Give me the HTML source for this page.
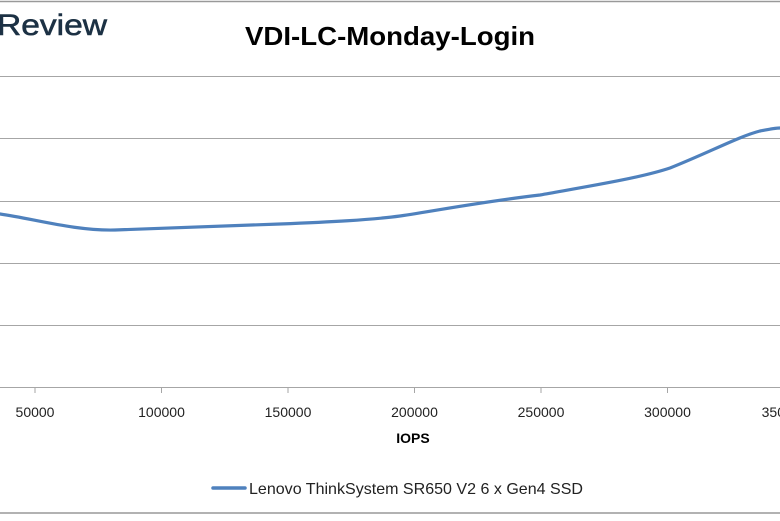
<!DOCTYPE html>
<html><head><style>
body{margin:0;width:780px;height:516px;background:#fff;overflow:hidden;font-family:"Liberation Sans",sans-serif}
</style></head><body>
<svg width="780" height="516" xmlns="http://www.w3.org/2000/svg">
<line x1="0" y1="1.5" x2="780" y2="1.5" stroke="#999" stroke-width="1.5"/>
<line x1="0" y1="513" x2="780" y2="513" stroke="#999" stroke-width="1.5"/>
<text x="-3" y="35" font-size="30" fill="#1c3144" stroke="#1c3144" stroke-width="0.6" textLength="110" lengthAdjust="spacingAndGlyphs">Review</text>
<text x="390" y="45" font-size="26" font-weight="bold" text-anchor="middle" fill="#000" textLength="290" lengthAdjust="spacingAndGlyphs">VDI-LC-Monday-Login</text>
<g stroke="#a6a6a6" stroke-width="1">
<line x1="0" y1="76.5" x2="780" y2="76.5"/>
<line x1="0" y1="138.5" x2="780" y2="138.5"/>
<line x1="0" y1="201.5" x2="780" y2="201.5"/>
<line x1="0" y1="263.5" x2="780" y2="263.5"/>
<line x1="0" y1="325.5" x2="780" y2="325.5"/>
<line x1="0" y1="387.5" x2="780" y2="387.5"/>
<line x1="35" y1="387" x2="35" y2="393"/>
<line x1="161.5" y1="387" x2="161.5" y2="393"/>
<line x1="288" y1="387" x2="288" y2="393"/>
<line x1="414.5" y1="387" x2="414.5" y2="393"/>
<line x1="541" y1="387" x2="541" y2="393"/>
<line x1="667.5" y1="387" x2="667.5" y2="393"/>
</g>
<g font-size="14" fill="#222" text-anchor="middle">
<text x="35" y="417">50000</text>
<text x="161.5" y="417">100000</text>
<text x="288" y="417">150000</text>
<text x="414.5" y="417">200000</text>
<text x="541" y="417">250000</text>
<text x="667.5" y="417">300000</text>
<text x="785" y="417">350000</text>
</g>
<text x="413" y="443" font-size="14" font-weight="bold" text-anchor="middle" fill="#000">IOPS</text>
<path d="M0,214 C35,219 75,231 115,230 C160,228 220,226 280,224 C330,222 370,220 400,216 C440,210 480,202 540,195 C590,186 640,178 670,168 C710,152 740,136 760,131 C770,129 776,128 780,128" fill="none" stroke="#4f81bd" stroke-width="3.2" stroke-linecap="round"/>
<line x1="213" y1="488" x2="245" y2="488" stroke="#4f81bd" stroke-width="3.5" stroke-linecap="round"/>
<text x="249" y="494" font-size="16" fill="#222" textLength="334" lengthAdjust="spacingAndGlyphs">Lenovo ThinkSystem SR650 V2 6 x Gen4 SSD</text>
</svg>
</body></html>
